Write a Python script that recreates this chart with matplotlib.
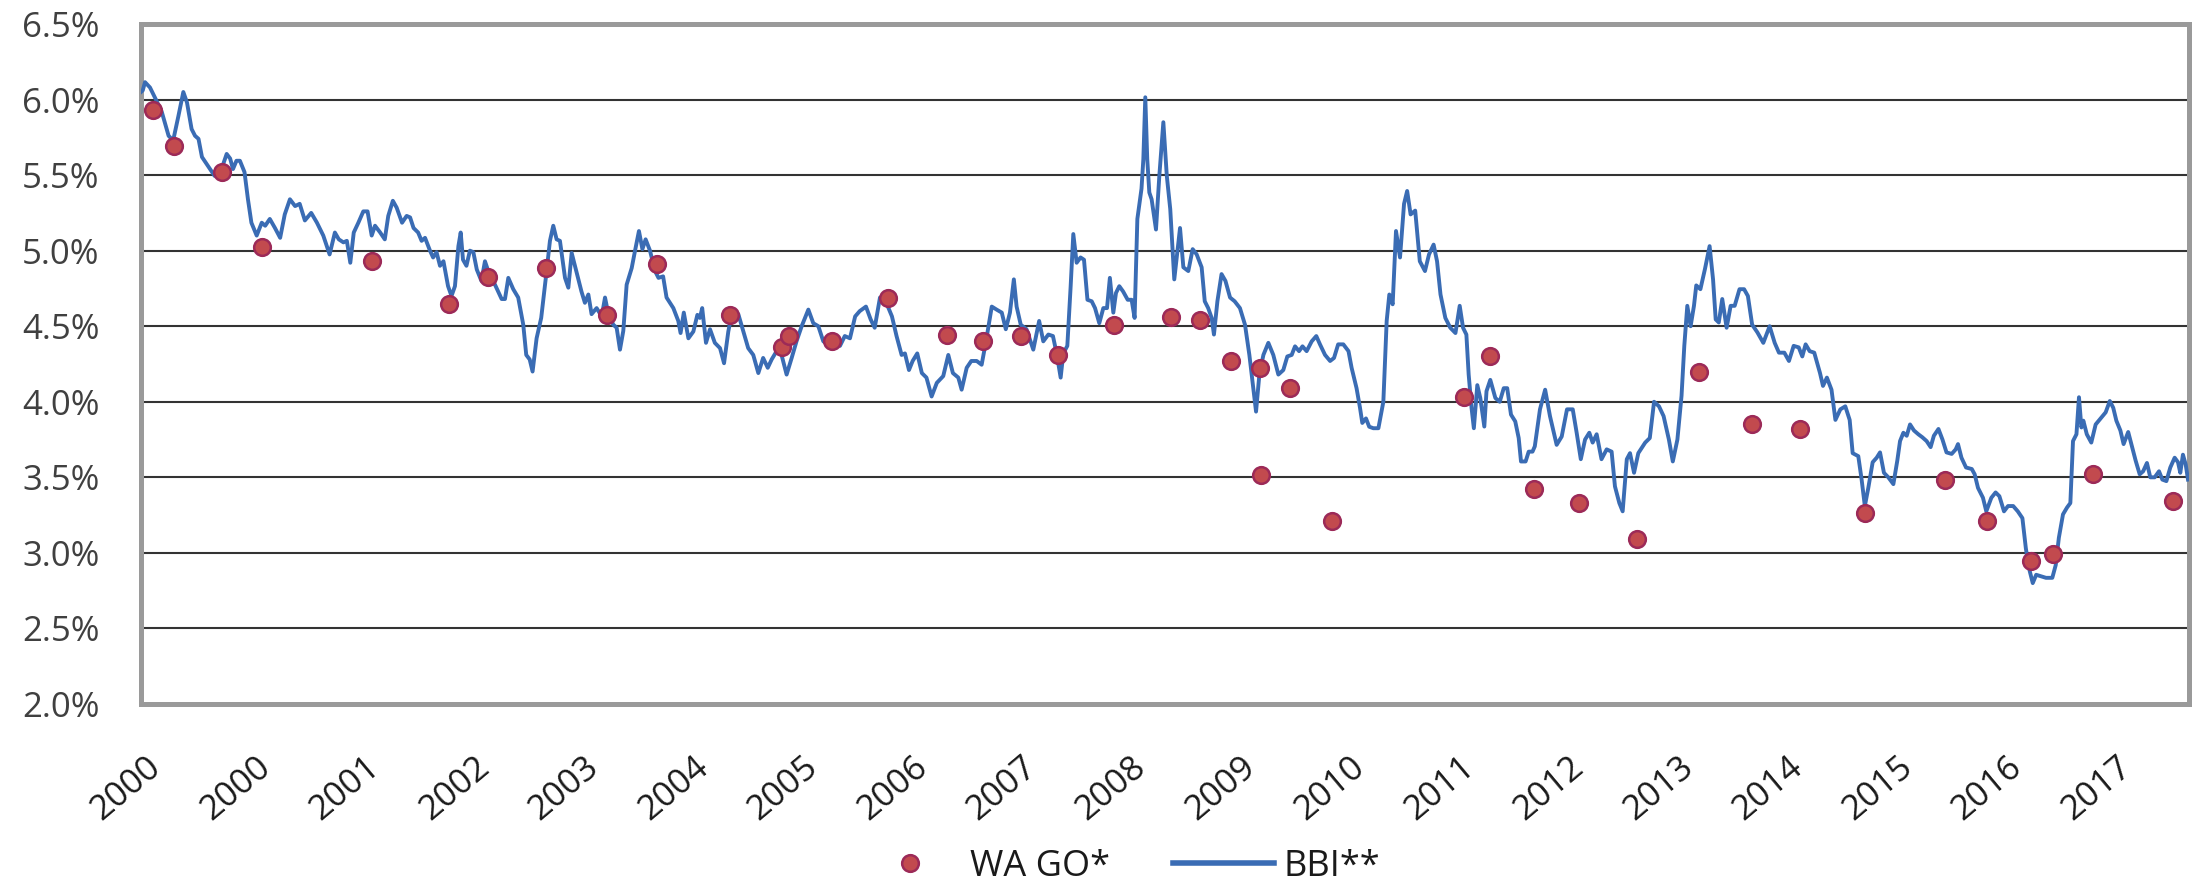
import matplotlib
matplotlib.use("Agg")
import matplotlib.pyplot as plt
from matplotlib.lines import Line2D

plt.rcParams["font.family"] = ["Open Sans", "DejaVu Sans"]

# BBI** weekly yield (decimal year, percent)
bbi_year = [
    2000.0, 2000.015, 2000.035, 2000.078, 2000.12, 2000.18, 2000.24, 2000.28, 2000.325, 2000.368,
    2000.40, 2000.44, 2000.47, 2000.50, 2000.53, 2000.60, 2000.64, 2000.70, 2000.745, 2000.775,
    2000.80, 2000.83, 2000.86, 2000.90, 2000.93, 2000.96, 2001.006, 2001.05, 2001.08, 2001.12,
    2001.165, 2001.21, 2001.25, 2001.295, 2001.34, 2001.38, 2001.425, 2001.48, 2001.53, 2001.585,
    2001.64, 2001.686, 2001.72, 2001.76, 2001.79, 2001.82, 2001.85, 2001.89, 2001.933, 2001.97,
    2002.006, 2002.035, 2002.08, 2002.12, 2002.15, 2002.19, 2002.223, 2002.27, 2002.31, 2002.34,
    2002.37, 2002.41, 2002.44, 2002.47, 2002.513, 2002.54, 2002.57, 2002.60, 2002.63, 2002.67,
    2002.70, 2002.73, 2002.76, 2002.78, 2002.80, 2002.83, 2002.86, 2002.89, 2002.92, 2002.96,
    2002.991, 2003.035, 2003.078, 2003.136, 2003.165, 2003.194, 2003.237, 2003.28, 2003.324, 2003.35,
    2003.38, 2003.405, 2003.44, 2003.48, 2003.527, 2003.556, 2003.585, 2003.614, 2003.643, 2003.687,
    2003.716, 2003.745, 2003.788, 2003.83, 2003.86, 2003.89, 2003.918, 2003.962, 2004.006, 2004.035,
    2004.064, 2004.107, 2004.136, 2004.165, 2004.194, 2004.223, 2004.267, 2004.296, 2004.33, 2004.36,
    2004.388, 2004.426, 2004.47, 2004.50, 2004.54, 2004.57, 2004.629, 2004.672, 2004.692, 2004.72,
    2004.76, 2004.803, 2004.838, 2004.86, 2004.88, 2004.913, 2004.948, 2004.99, 2005.035, 2005.07,
    2005.107, 2005.142, 2005.194, 2005.238, 2005.28, 2005.324, 2005.368, 2005.41, 2005.45, 2005.484,
    2005.527, 2005.57, 2005.614, 2005.658, 2005.70, 2005.745, 2005.803, 2005.846, 2005.89, 2005.933,
    2005.99, 2006.035, 2006.078, 2006.12, 2006.165, 2006.21, 2006.25, 2006.304, 2006.345, 2006.38,
    2006.426, 2006.47, 2006.53, 2006.57, 2006.614, 2006.643, 2006.678, 2006.71, 2006.75, 2006.79,
    2006.83, 2006.875, 2006.92, 2006.976, 2007.02, 2007.06, 2007.107, 2007.136, 2007.18, 2007.22,
    2007.267, 2007.31, 2007.35, 2007.398, 2007.44, 2007.485, 2007.52, 2007.556, 2007.59, 2007.614,
    2007.65, 2007.70, 2007.759, 2007.81, 2007.846, 2007.89, 2007.93, 2007.962, 2007.997, 2008.02,
    2008.055, 2008.084, 2008.107, 2008.136, 2008.17, 2008.20, 2008.23, 2008.267, 2008.296, 2008.333,
    2008.368, 2008.40, 2008.425, 2008.455, 2008.478, 2008.507, 2008.54, 2008.58, 2008.614, 2008.64,
    2008.664, 2008.70, 2008.716, 2008.733, 2008.75, 2008.768, 2008.788, 2008.826, 2008.855, 2008.89,
    2008.92, 2008.95, 2008.985, 2009.035, 2009.064, 2009.107, 2009.145, 2009.18, 2009.223, 2009.25,
    2009.28, 2009.31, 2009.33, 2009.36, 2009.396, 2009.43, 2009.47, 2009.51, 2009.556, 2009.60,
    2009.638, 2009.672, 2009.696, 2009.725, 2009.76, 2009.803, 2009.846, 2009.89, 2009.933, 2009.968,
    2010.006, 2010.035, 2010.07, 2010.10, 2010.136, 2010.18, 2010.22, 2010.252, 2010.296, 2010.34,
    2010.374, 2010.41, 2010.455, 2010.50, 2010.527, 2010.57, 2010.60, 2010.62, 2010.652, 2010.68,
    2010.716, 2010.76, 2010.803, 2010.832, 2010.855, 2010.884, 2010.913, 2010.948, 2010.983, 2011.01,
    2011.04, 2011.08, 2011.12, 2011.165, 2011.20, 2011.24, 2011.27, 2011.30, 2011.342, 2011.385,
    2011.43, 2011.467, 2011.496, 2011.525, 2011.545, 2011.57, 2011.59, 2011.62, 2011.646, 2011.681,
    2011.70, 2011.733, 2011.777, 2011.815, 2011.85, 2011.88, 2011.913, 2011.95, 2011.98, 2012.0,
    2012.04, 2012.067, 2012.10, 2012.12, 2012.165, 2012.21, 2012.252, 2012.31, 2012.354, 2012.40,
    2012.45, 2012.484, 2012.52, 2012.557, 2012.594, 2012.623, 2012.658, 2012.70, 2012.745, 2012.788,
    2012.817, 2012.855, 2012.884, 2012.92, 2012.948, 2012.983, 2013.02, 2013.08, 2013.12, 2013.157,
    2013.20, 2013.24, 2013.286, 2013.32, 2013.36, 2013.396, 2013.42, 2013.446, 2013.475, 2013.504,
    2013.524, 2013.56, 2013.60, 2013.64, 2013.67, 2013.693, 2013.72, 2013.75, 2013.788, 2013.823,
    2013.858, 2013.90, 2013.94, 2013.973, 2014.01, 2014.055, 2014.107, 2014.162, 2014.206, 2014.243,
    2014.29, 2014.33, 2014.371, 2014.415, 2014.446, 2014.475, 2014.51, 2014.55, 2014.574, 2014.60,
    2014.626, 2014.66, 2014.70, 2014.734, 2014.777, 2014.82, 2014.858, 2014.884, 2014.933, 2014.962,
    2014.99, 2015.02, 2015.058, 2015.093, 2015.122, 2015.156, 2015.194, 2015.238, 2015.272, 2015.296,
    2015.325, 2015.354, 2015.383, 2015.417, 2015.455, 2015.49, 2015.527, 2015.562, 2015.59, 2015.63,
    2015.665, 2015.70, 2015.745, 2015.78, 2015.80, 2015.83, 2015.87, 2015.92, 2015.945, 2015.974,
    2016.017, 2016.046, 2016.09, 2016.127, 2016.16, 2016.20, 2016.235, 2016.28, 2016.32, 2016.36,
    2016.39, 2016.417, 2016.45, 2016.48, 2016.522, 2016.565, 2016.62, 2016.65, 2016.677, 2016.713,
    2016.748, 2016.777, 2016.80, 2016.83, 2016.852, 2016.873, 2016.89, 2016.92, 2016.959, 2016.997,
    2017.046, 2017.084, 2017.12, 2017.15, 2017.177, 2017.212, 2017.24, 2017.28, 2017.307, 2017.345,
    2017.38, 2017.41, 2017.443, 2017.472, 2017.51, 2017.548, 2017.577, 2017.612, 2017.646, 2017.684,
    2017.713, 2017.733, 2017.756, 2017.78, 2017.80,
]
bbi_rate = [
    6.05, 6.06, 6.115, 6.08, 6.015, 5.92, 5.76, 5.73, 5.89, 6.05,
    5.98, 5.805, 5.76, 5.74, 5.62, 5.54, 5.495, 5.54, 5.64, 5.61,
    5.54, 5.595, 5.595, 5.52, 5.34, 5.185, 5.10, 5.185, 5.165, 5.21,
    5.15, 5.085, 5.24, 5.34, 5.295, 5.31, 5.20, 5.25, 5.185, 5.10,
    4.975, 5.12, 5.075, 5.055, 5.065, 4.92, 5.12, 5.185, 5.26, 5.26,
    5.10, 5.165, 5.12, 5.075, 5.23, 5.33, 5.285, 5.185, 5.23, 5.22,
    5.15, 5.12, 5.065, 5.085, 5.00, 4.955, 4.99, 4.90, 4.93, 4.765,
    4.70, 4.765, 5.03, 5.12, 4.94, 4.90, 5.00, 4.99, 4.875, 4.80,
    4.93, 4.83, 4.775, 4.68, 4.68, 4.82, 4.745, 4.69, 4.51, 4.31,
    4.28, 4.20, 4.42, 4.555, 4.865, 5.065, 5.165, 5.075, 5.065, 4.82,
    4.755, 4.985, 4.855, 4.73, 4.655, 4.71, 4.58, 4.62, 4.565, 4.69,
    4.58, 4.51, 4.49, 4.345, 4.47, 4.775, 4.885, 5.00, 5.13, 5.01,
    5.075, 5.00, 4.865, 4.82, 4.83, 4.69, 4.62, 4.535, 4.455, 4.59,
    4.42, 4.465, 4.575, 4.555, 4.62, 4.39, 4.48, 4.39, 4.355, 4.255,
    4.465, 4.60, 4.58, 4.465, 4.355, 4.31, 4.19, 4.29, 4.225, 4.28,
    4.335, 4.31, 4.18, 4.29, 4.40, 4.50, 4.61, 4.52, 4.50, 4.40,
    4.37, 4.39, 4.37, 4.435, 4.42, 4.565, 4.60, 4.63, 4.545, 4.49,
    4.69, 4.675, 4.565, 4.435, 4.31, 4.32, 4.21, 4.27, 4.32, 4.19,
    4.16, 4.035, 4.125, 4.17, 4.31, 4.19, 4.16, 4.08, 4.225, 4.27,
    4.27, 4.245, 4.41, 4.63, 4.61, 4.59, 4.48, 4.59, 4.81, 4.63,
    4.51, 4.48, 4.345, 4.535, 4.40, 4.445, 4.435, 4.32, 4.16, 4.32,
    4.37, 4.765, 5.11, 4.92, 4.955, 4.94, 4.675, 4.665, 4.62, 4.52,
    4.62, 4.62, 4.82, 4.59, 4.72, 4.765, 4.73, 4.675, 4.675, 4.555,
    5.21, 5.41, 5.605, 6.015, 5.605, 5.385, 5.34, 5.14, 5.495, 5.85,
    5.495, 5.275, 4.81, 5.15, 4.89, 4.865, 5.01, 4.975, 4.89, 4.665,
    4.62, 4.555, 4.445, 4.665, 4.845, 4.80, 4.69, 4.665, 4.62, 4.51,
    4.31, 4.09, 3.935, 4.18, 4.31, 4.39, 4.31, 4.18, 4.21, 4.30,
    4.31, 4.367, 4.335, 4.367, 4.335, 4.40, 4.435, 4.38, 4.31, 4.27,
    4.29, 4.38, 4.38, 4.335, 4.225, 4.09, 3.96, 3.86, 3.89, 3.835,
    3.825, 3.825, 4.00, 4.535, 4.71, 4.645, 5.13, 4.955, 5.31, 5.395,
    5.24, 5.265, 4.93, 4.865, 4.975, 5.04, 4.93, 4.71, 4.555, 4.49,
    4.455, 4.635, 4.49, 4.445, 4.18, 3.96, 3.825, 4.11, 4.025, 3.836,
    4.07, 4.145, 4.025, 4.00, 4.09, 4.09, 3.915, 3.87, 3.76, 3.605,
    3.605, 3.67, 3.67, 3.705, 3.95, 4.08, 3.905, 3.715, 3.77, 3.95,
    3.95, 3.795, 3.62, 3.75, 3.795, 3.73, 3.785, 3.62, 3.685, 3.67,
    3.44, 3.33, 3.275, 3.62, 3.66, 3.53, 3.66, 3.73, 3.76, 4.00,
    3.97, 3.905, 3.75, 3.605, 3.75, 4.04, 4.37, 4.635, 4.50, 4.635,
    4.77, 4.745, 4.88, 5.03, 4.81, 4.545, 4.525, 4.68, 4.49, 4.635,
    4.635, 4.745, 4.745, 4.70, 4.51, 4.46, 4.39, 4.50, 4.39, 4.325,
    4.325, 4.27, 4.37, 4.36, 4.30, 4.38, 4.335, 4.325, 4.26, 4.19,
    4.105, 4.16, 4.08, 3.88, 3.95, 3.97, 3.88, 3.66, 3.64, 3.485,
    3.31, 3.43, 3.60, 3.63, 3.665, 3.53, 3.50, 3.455, 3.61, 3.74,
    3.795, 3.775, 3.85, 3.81, 3.785, 3.765, 3.74, 3.70, 3.775, 3.82,
    3.75, 3.665, 3.655, 3.685, 3.72, 3.63, 3.565, 3.555, 3.52, 3.43,
    3.365, 3.275, 3.365, 3.40, 3.375, 3.275, 3.31, 3.31, 3.275, 3.23,
    3.03, 2.90, 2.80, 2.855, 2.845, 2.835, 2.835, 2.92, 3.10, 3.255,
    3.30, 3.33, 3.74, 3.785, 4.03, 3.83, 3.875, 3.785, 3.73, 3.85,
    3.895, 3.93, 4.005, 3.96, 3.875, 3.81, 3.72, 3.80, 3.72, 3.61,
    3.52, 3.54, 3.595, 3.50, 3.50, 3.54, 3.485, 3.475, 3.565, 3.63,
    3.60, 3.53, 3.65, 3.585, 3.485,
]

# WA GO* issue yields
wago_year = [
    2000.10, 2000.29, 2000.70, 2001.055, 2002.01, 2002.678, 2003.02, 2003.52, 2004.05, 2004.49,
    2005.12, 2005.57, 2005.637, 2006.01, 2006.498, 2007.012, 2007.32, 2007.65, 2007.977, 2008.46,
    2008.957, 2009.205, 2009.48, 2009.727, 2009.742, 2009.99, 2010.353, 2011.505, 2011.731, 2012.11,
    2012.50, 2013.01, 2013.547, 2014.011, 2014.426, 2014.995, 2015.687, 2016.05, 2016.432, 2016.624,
    2016.97, 2017.672,
]
wago_rate = [
    5.934, 5.695, 5.518, 5.024, 4.931, 4.65, 4.825, 4.887, 4.573, 4.914,
    4.577, 4.36, 4.434, 4.40, 4.69, 4.44, 4.40, 4.434, 4.312, 4.511,
    4.562, 4.54, 4.273, 4.226, 3.515, 4.09, 3.211, 4.033, 4.30, 3.425,
    3.33, 3.09, 4.197, 3.85, 3.82, 3.262, 3.48, 3.21, 2.944, 2.993,
    3.52, 3.343,
]

x_labels = ["2000", "2000", "2001", "2002", "2003", "2004", "2005", "2006", "2007", "2008",
            "2009", "2010", "2011", "2012", "2013", "2014", "2015", "2016", "2017"]
first_label = 2000.04
label_step = 0.952
y_ticks = [2.0, 2.5, 3.0, 3.5, 4.0, 4.5, 5.0, 5.5, 6.0, 6.5]

line_blue = "#3a6cb4"
dot_fill = "#c24a4e"
dot_edge = "#9c2a58"

fig = plt.figure(figsize=(21.96, 8.89), dpi=100)
ax = fig.add_axes([141 / 2196, 1 - 704 / 889, 2048 / 2196, 680 / 889])

ax.plot(bbi_year, bbi_rate, color=line_blue, lw=2.8, solid_joinstyle="round", zorder=3)
ax.plot(wago_year, wago_rate, ls="none", marker="o", ms=12, mfc=dot_fill, mec=dot_edge,
        mew=1.8, zorder=4)

ax.set_xlim(2000.0, 2000.0 + 2048 / 115)
ax.set_ylim(2.0, 6.5)

ax.set_yticks(y_ticks)
ax.set_yticklabels([f"{v:.1f}%" for v in y_ticks])
ax.set_xticks([first_label + i * label_step for i in range(len(x_labels))])
ax.set_xticklabels(x_labels)

ax.tick_params(axis="both", length=0)
ax.tick_params(axis="y", pad=30, labelsize=25, labelcolor="#404040")
ax.tick_params(axis="x", pad=33, labelsize=25, labelcolor="#1a1a1a")
plt.setp(ax.get_xticklabels(), rotation=40, ha="right", rotation_mode="anchor")

ax.yaxis.grid(True, color="#333333", lw=1.5)
ax.xaxis.grid(False)
ax.set_axisbelow(True)
for sp in ax.spines.values():
    sp.set_color("#9a9a9a")
    sp.set_linewidth(3.6)

handles = [
    Line2D([], [], ls="none", marker="o", ms=12, mfc=dot_fill, mec=dot_edge, mew=1.8),
    Line2D([], [], color=line_blue, lw=4),
]
fig.legend(handles, ["WA GO*", "BBI**"], loc="center", bbox_to_anchor=(0.51, 0.025),
           ncol=2, frameon=False, fontsize=26, handlelength=2.8, handletextpad=0.25,
           columnspacing=1.75, borderpad=0, labelcolor="#1a1a1a")

fig.savefig("out.png", dpi=100)
